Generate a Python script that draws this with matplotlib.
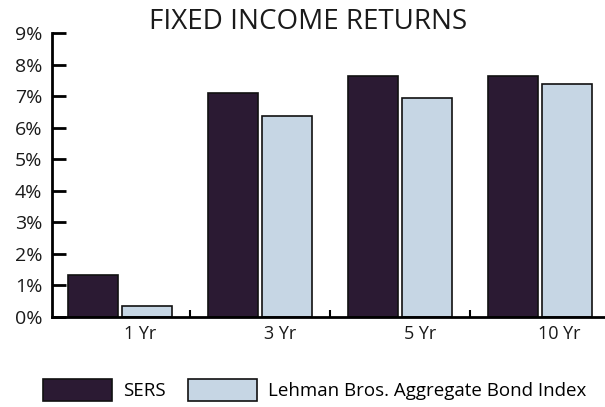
import matplotlib.pyplot as plt
import numpy as np

# Datos del gráfico
periodos = ["1 Yr", "3 Yr", "5 Yr", "10 Yr"]
sers = [1.33, 7.10, 7.64, 7.64]
lehman = [0.35, 6.37, 6.94, 7.38]
nombres_series = ["SERS", "Lehman Bros. Aggregate Bond Index"]

plt.rcParams['font.family'] = ['Open Sans', 'DejaVu Sans']

fig = plt.figure(figsize=(6.05, 4.07), dpi=100)
ax = fig.add_axes([0.086, 0.221, 0.914, 0.698])

x = np.arange(len(periodos))
ancho = 0.357
desp = 0.19

b1 = ax.bar(x - desp, sers, ancho, color='#2b1a33', edgecolor='#111111', linewidth=1.2)
b2 = ax.bar(x + desp, lehman, ancho, color='#c6d6e4', edgecolor='#111111', linewidth=1.2)

ax.set_ylim(0, 9)
ax.set_xlim(-0.486, 3.464)
ax.set_yticks(range(0, 10))
ax.set_yticklabels([f"{v}%" for v in range(0, 10)], fontsize=14, color='#1a1a1a')

# Etiquetas del eje X ligeramente desplazadas a la derecha
ax.set_xticks(x + 0.14)
ax.set_xticklabels(periodos, fontsize=13, color='#1a1a1a')
ax.tick_params(axis='x', which='major', length=0, pad=6)
ax.set_xticks(x[:-1] + 0.5, minor=True)
ax.tick_params(axis='x', which='minor', direction='in', length=5, width=1.5)
ax.tick_params(axis='y', direction='in', length=10, width=2, pad=7)

for lado in ['top', 'right']:
    ax.spines[lado].set_visible(False)
ax.spines['left'].set_linewidth(2)
ax.spines['bottom'].set_linewidth(2)

fig.text(0.509, 0.946, "FIXED INCOME RETURNS", ha='center', va='center',
         fontsize=20, color='#1a1a1a')

fig.legend([b1, b2], nombres_series, loc='center left',
           bbox_to_anchor=(0.071, 1 - 390 / 407), ncol=2, frameon=False,
           fontsize=13.5, handlelength=3.68, handleheight=1.5,
           handletextpad=0.59, columnspacing=1.17, borderpad=0, borderaxespad=0)

plt.savefig("out.png", dpi=100)
